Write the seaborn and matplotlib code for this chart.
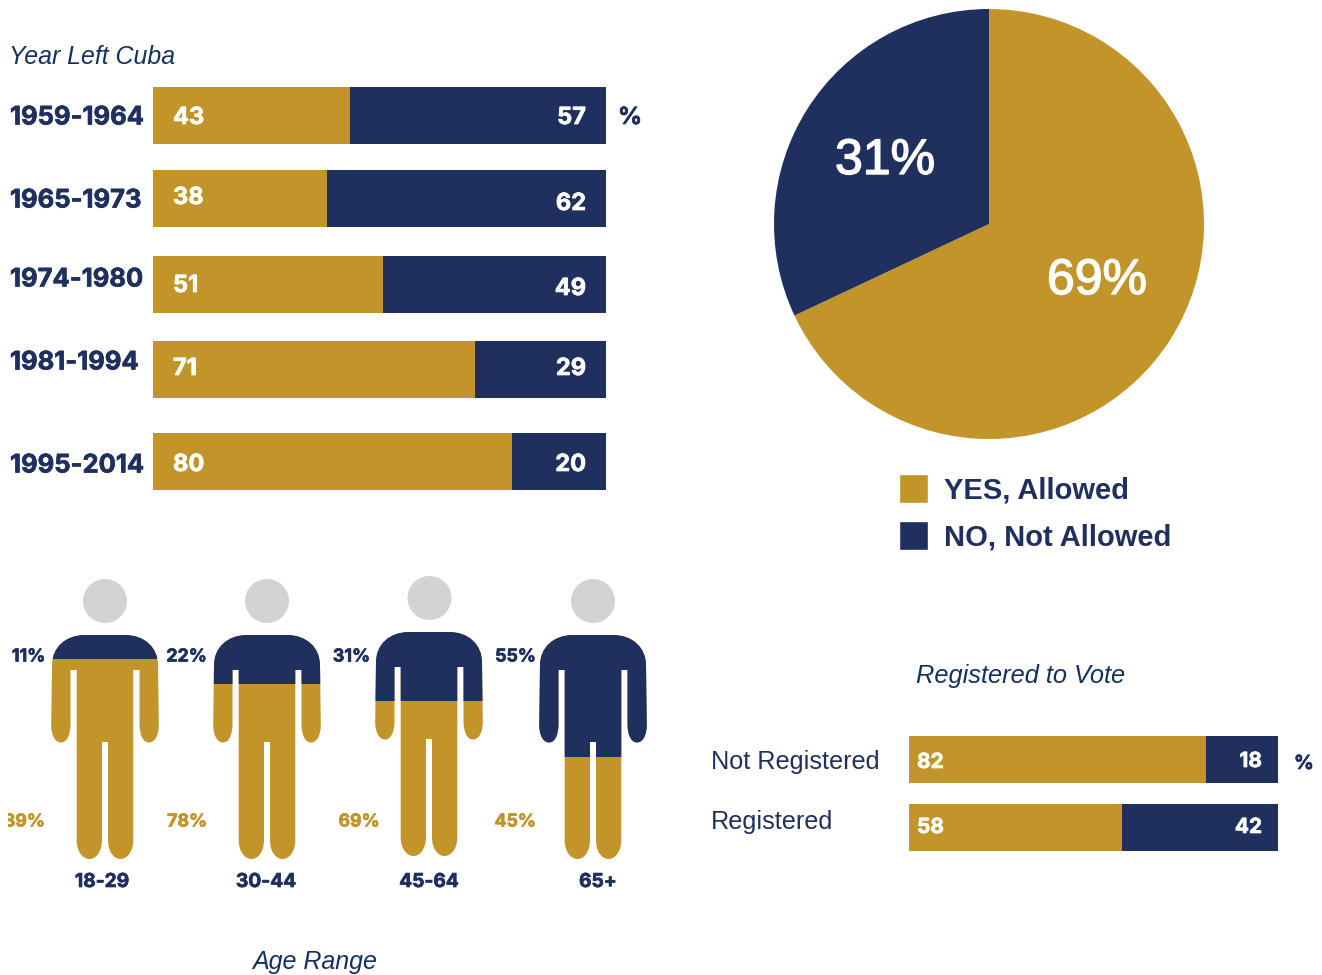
import matplotlib
matplotlib.use("Agg")
import matplotlib.pyplot as plt
import matplotlib.patheffects as pe
import seaborn as sns
from matplotlib.patches import Circle, PathPatch, Patch
from matplotlib.path import Path
from matplotlib.transforms import Affine2D, Bbox

# data
years = ["1959-1964", "1965-1973", "1974-1980", "1981-1994", "1995-2014"]
year_yes = [43, 38, 51, 71, 80]
year_no = [57, 62, 49, 29, 20]
# gold length as actually drawn, it differs a bit from the printed number
year_yes_drawn = [43.5, 38.4, 50.8, 71.1, 79.2]

pie_labels = ["YES, Allowed", "NO, Not Allowed"]
pie_text = [69, 31]
pie_drawn = [68, 32]

ages = ["18-29", "30-44", "45-64", "65+"]
age_no = [11, 22, 31, 55]
age_yes = [89, 78, 69, 45]

registered = ["Not Registered", "Registered"]
reg_yes = [82, 58]
reg_no = [18, 42]
reg_yes_drawn = [80.5, 57.7]

GOLD = "#C2952B"
NAVY = "#1F305F"
TITLE = "#12315F"
HEAD = "#D1D3D4"
W, H = 1322, 975

sns.set_theme(style="white")
plt.rcParams["font.family"] = ["Liberation Sans", "DejaVu Sans"]

fig = plt.figure(figsize=(W / 100, H / 100), dpi=100, facecolor="white")
px = Affine2D().scale(1, -1).translate(0, H)


def put(x, y, s, size, color=NAVY, ha="left"):
    # Inter bold is a touch light next to the original, thicken it a little
    t = fig.text(x, y + 2, s, transform=px, fontsize=size, color=color, ha=ha, va="center",
                 fontweight="bold", family=["Inter", "DejaVu Sans"])
    t.set_path_effects([pe.withStroke(linewidth=0.5, foreground=color)])
    return t


def plain(x, y, s, size, color=NAVY, ha="left", style="normal"):
    return fig.text(x, y + 2, s, transform=px, fontsize=size, color=color, ha=ha, va="center",
                    fontstyle=style, family=["Liberation Sans", "DejaVu Sans"])


def px_axes(left, top, right, bottom):
    return fig.add_axes([left / W, 1 - bottom / H, (right - left) / W, (bottom - top) / H])


def stacked_row(left, top, right, bottom, label, yes):
    ax = px_axes(left, top, right, bottom)
    sns.barplot(x=[100], y=[label], color=NAVY, width=1, saturation=1, linewidth=0, ax=ax)
    sns.barplot(x=[yes], y=[label], color=GOLD, width=1, saturation=1, linewidth=0, ax=ax)
    ax.set_xlim(0, 100)
    ax.set_ylim(0.5, -0.5)
    ax.axis("off")


# Year left Cuba
plain(9, 55, "Year Left Cuba", 17.9, TITLE, style="italic")
year_tops = [87, 170, 256, 341, 433]
year_label_y = [116, 199, 278, 361, 464]
yes_label_y = [116, 196, 284, 367, 463]
no_label_y = [116, 202, 287, 367, 463]
for i, year in enumerate(years):
    stacked_row(153, year_tops[i], 606, year_tops[i] + 57, year, year_yes_drawn[i])
    put(10, year_label_y[i], year, 18.4)
    put(173, yes_label_y[i], str(year_yes[i]), 17, "white")
    put(586, no_label_y[i], str(year_no[i]), 17, "white", ha="right")
put(618, 116, "%", 17)

# Pie
ax_pie = px_axes(774, 9, 1204, 439)
ax_pie.pie(pie_drawn, colors=[GOLD, NAVY], startangle=90, counterclock=False, radius=1,
           wedgeprops={"linewidth": 0})
ax_pie.set_xlim(-1, 1)
ax_pie.set_ylim(-1, 1)
for x, y, v in zip([1097, 885], [279, 159], pie_text):
    t = plain(x, y, f"{v}%", 36, "white", ha="center")
    t.set_path_effects([pe.withStroke(linewidth=1, foreground="white")])
handles = [Patch(facecolor=GOLD, label=pie_labels[0]), Patch(facecolor=NAVY, label=pie_labels[1])]
fig.legend(handles=handles, loc="upper left", bbox_to_anchor=(898.7 / W, 1 - 474 / H),
           bbox_transform=fig.transFigure, frameon=False, borderpad=0,
           borderaxespad=0, handlelength=1, handleheight=1.154, handletextpad=0.55,
           labelspacing=0.56, labelcolor=NAVY, prop={"family": "Liberation Sans", "weight": "bold", "size": 21})

# Silhouette, px from the top centre of the body
right_side = [
    (Path.LINETO, (20, 0)),
    (Path.CURVE4, (40, 0)), (Path.CURVE4, (53, 13)), (Path.CURVE4, (53, 30)),
    (Path.LINETO, (53.8, 90)),
    (Path.CURVE4, (53.8, 100)), (Path.CURVE4, (50, 107.5)), (Path.CURVE4, (44, 107.5)),
    (Path.CURVE4, (38, 107.5)), (Path.CURVE4, (34.8, 100)), (Path.CURVE4, (34.5, 90)),
    (Path.LINETO, (34.5, 35)), (Path.LINETO, (28.3, 35)),
    (Path.LINETO, (28.3, 205)),
    (Path.CURVE4, (28.3, 217)), (Path.CURVE4, (22, 224)), (Path.CURVE4, (15.5, 224)),
    (Path.CURVE4, (9, 224)), (Path.CURVE4, (3, 217)), (Path.CURVE4, (3, 205)),
    (Path.LINETO, (3, 107)), (Path.LINETO, (0, 107)),
]
verts = [(0, 0)] + [p for _, p in right_side]
codes = [Path.MOVETO] + [c for c, _ in right_side]
verts_all = verts + [(-x, y) for x, y in reversed(verts)][1:] + [(0, 0)]
codes_all = codes + list(reversed(codes[1:])) + [Path.CLOSEPOLY]
body = Path(verts_all, codes_all)

body_x = [105, 267, 429, 593]
body_top = [635, 635, 632, 635]
head_x = [105, 267, 429.5, 593]
head_y = [601, 601, 598, 601]
no_label_x = [45, 207, 370, 536]
yes_label_x = [45, 207, 380, 536]
age_label_x = [102, 266, 429, 598]
clip = Bbox([[8, 0], [W, H]])

for i, age in enumerate(ages):
    fig.add_artist(Circle((head_x[i], head_y[i]), 22, transform=px, color=HEAD, lw=0))
    ax = px_axes(body_x[i] - 55, body_top[i], body_x[i] + 55, body_top[i] + 224)
    sns.barplot(x=[age], y=[age_no[i]], color=NAVY, width=110, saturation=1, linewidth=0, ax=ax, zorder=3)
    ax.set_xlim(-55, 55)
    # 100% of the body is about 221 px tall in the picture
    ax.set_ylim(224 * 100 / 221, 0)
    ax.axis("off")
    shape = PathPatch(body, facecolor=GOLD, edgecolor="none", zorder=2,
                      transform=Affine2D().scale(1, 100 / 221) + ax.transData)
    ax.add_patch(shape)
    for bar in ax.patches:
        if bar is not shape:
            bar.set_clip_path(shape)
    t1 = put(no_label_x[i], 655, f"{age_no[i]}%", 12.8, ha="right")
    t2 = put(yes_label_x[i], 820, f"{age_yes[i]}%", 12.8, GOLD, ha="right")
    for t in (t1, t2):
        t.set_clip_box(clip)
        t.set_clip_on(True)
    put(age_label_x[i], 880, age, 13.8, ha="center")
plain(315, 960, "Age Range", 18, TITLE, ha="center", style="italic")

# Registered to vote
plain(916, 674, "Registered to Vote", 18.3, TITLE, style="italic")
reg_tops = [736, 804]
reg_label_y = [760, 820]
reg_yes_y = [760, 825]
reg_no_y = [759, 825]
for i, name in enumerate(registered):
    stacked_row(909, reg_tops[i], 1278, reg_tops[i] + 47, name, reg_yes_drawn[i])
    plain(711, reg_label_y[i], name, 18.2)
    put(917, reg_yes_y[i], str(reg_yes[i]), 15, "white")
    put(1262, reg_no_y[i], str(reg_no[i]), 15, "white", ha="right")
put(1294, 762, "%", 14)

fig.savefig("out.png", dpi=100)
